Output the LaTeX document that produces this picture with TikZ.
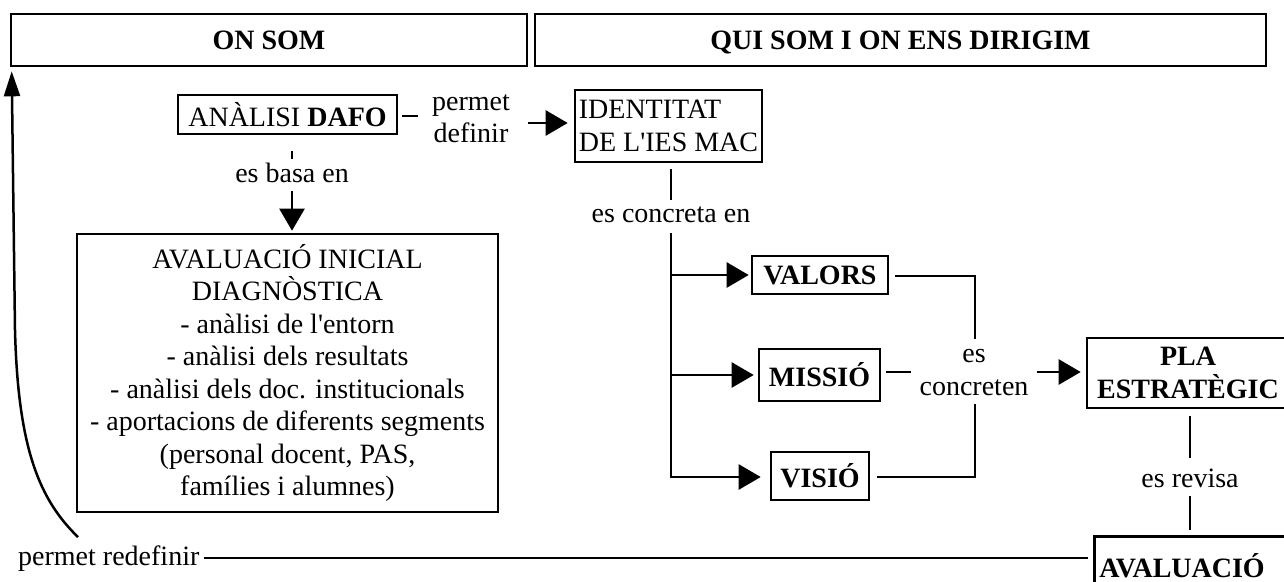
\documentclass[tikz,border=0pt]{standalone}
\usepackage{fontspec}
\setmainfont{Liberation Serif}
\usetikzlibrary{arrows.meta,calc}
\newcommand\myfs{\fontsize{28}{32.5}\selectfont}
\begin{document}
\begin{tikzpicture}[x=1pt,y=-1pt,
  box/.style={draw, line width=2.6pt, inner sep=0pt, align=center, font=\myfs},
  bbox/.style={box, font=\myfs\bfseries},
  hbox/.style={bbox, minimum height=52pt, text height=19pt, text depth=0pt},
  lbl/.style={inner sep=0pt, align=center, font=\myfs},
  ln/.style={line width=2.5pt},
  arr/.style={line width=2.5pt, -{Triangle[length=22pt,width=25pt]}},
  arrs/.style={line width=2.5pt, -{Triangle[length=25pt,width=16pt]}},
]
\useasboundingbox (0,0) rectangle (1284,581);
\clip (0,0) rectangle (1284,581);

% headers
\node[hbox, minimum width=516pt] (onsom) at (269,40) {ON SOM};
\node[hbox, minimum width=731pt] (qui) at (900.5,40) {QUI SOM I ON ENS DIRIGIM};

% left part
\node[box, minimum width=219pt, minimum height=39pt] (dafo) at (287.5,114.5) {ANÀLISI \textbf{DAFO}};
\node[lbl] (permet) at (471,119) {permet\\definir};
\node[box, minimum width=187pt, minimum height=72pt, align=left] (ident) at (668.5,126) {IDENTITAT\\DE L\textquotesingle IES MAC};
\node[lbl] (basa) at (292,173) {es basa en};
\node[box, minimum width=421pt, minimum height=278pt] (aval) at (287.5,373)
  {AVALUACIÓ INICIAL\\DIAGNÒSTICA\\- anàlisi de l\textquotesingle entorn\\- anàlisi dels resultats\\- anàlisi dels doc. institucionals\\- aportacions de diferents segments\\(personal docent, PAS,\\famílies i alumnes)};

% right part
\node[lbl] (concreta) at (671,215) {es concreta en};
\node[bbox, minimum width=136pt, minimum height=38pt] (valors) at (820,275) {VALORS};
\node[bbox, minimum width=121pt, minimum height=52pt] (missio) at (819.5,375) {MISSIÓ};
\node[bbox, minimum width=98pt, minimum height=48pt] (visio) at (820,476) {VISIÓ};
\node[lbl] (concreten) at (974,372.5) {es\\concreten};
\node[bbox, minimum width=202pt, minimum height=70pt] (pla) at (1188,373) {PLA\\ESTRATÈGIC};
\node[lbl] (revisa) at (1190,478) {es revisa};
\node[box, font=\myfs\bfseries, anchor=north west, inner xsep=5pt, inner ysep=0pt, text width=200pt, align=left, text height=41pt, text depth=60pt] (avaluacio) at (1093,535) {AVALUACIÓ};
\node[lbl, anchor=base west] (redef) at (18,565) {permet redefinir};

% connectors
\draw[ln] ($(dafo.east)+(4,1.5)$) -- ($(permet.west)+(-14,-3)$);
\draw[arr] ($(permet.east)+(18,4)$) -- ($(ident.west)+(-6,-3)$);
\draw[ln] ($(dafo.south)+(4.5,16)$) -- ($(basa.north)+(0,-3.5)$);
\draw[arr] ($(basa.south)+(0,8)$) -- ($(aval.north -| basa.south)+(0,-2)$);

\draw[ln] ($(ident.south -| concreta.north)+(0,6)$) -- ($(concreta.north)+(0,-7)$);
\draw[arr] ($(concreta.south)+(0,10)$) |- ($(visio.west)+(-9,1)$);
\draw[arr] (concreta.south |- valors.west) -- ($(valors.west)+(-2,0)$);
\draw[arr] (concreta.south |- missio.west) -- ($(missio.west)+(-4,0)$);

\draw[ln] ($(valors.east)+(6,1)$) -| ($(concreten.north)+(1,-10)$);
\draw[ln] ($(missio.east)+(5,-3)$) -- ($(concreten.west)+(-8,-0.5)$);
\draw[ln] ($(visio.east)+(7,1)$) -| ($(concreten.south)+(1,8)$);
\draw[arr] ($(concreten.east)+(8,-0.5)$) -- ($(pla.west)+(-5,-1)$);

\draw[ln] ($(pla.south)+(2,7)$) -- ($(revisa.north)+(0,-10)$);
\draw[ln] ($(revisa.south)+(0,8)$) -- ($(revisa.south |- avaluacio.north)+(0,-5)$);
\draw[ln] ($(redef.east)+(4,0)$) -- ($(redef.east -| avaluacio.west)+(-5,0)$);

\coordinate (bend) at (15,330);
\draw[arrs] ($(redef.north west)+(60,-8)$) .. controls (40,500) and (18,450) .. (bend) -- ($(onsom.south west)+(2,4)$);
\end{tikzpicture}
\end{document}
